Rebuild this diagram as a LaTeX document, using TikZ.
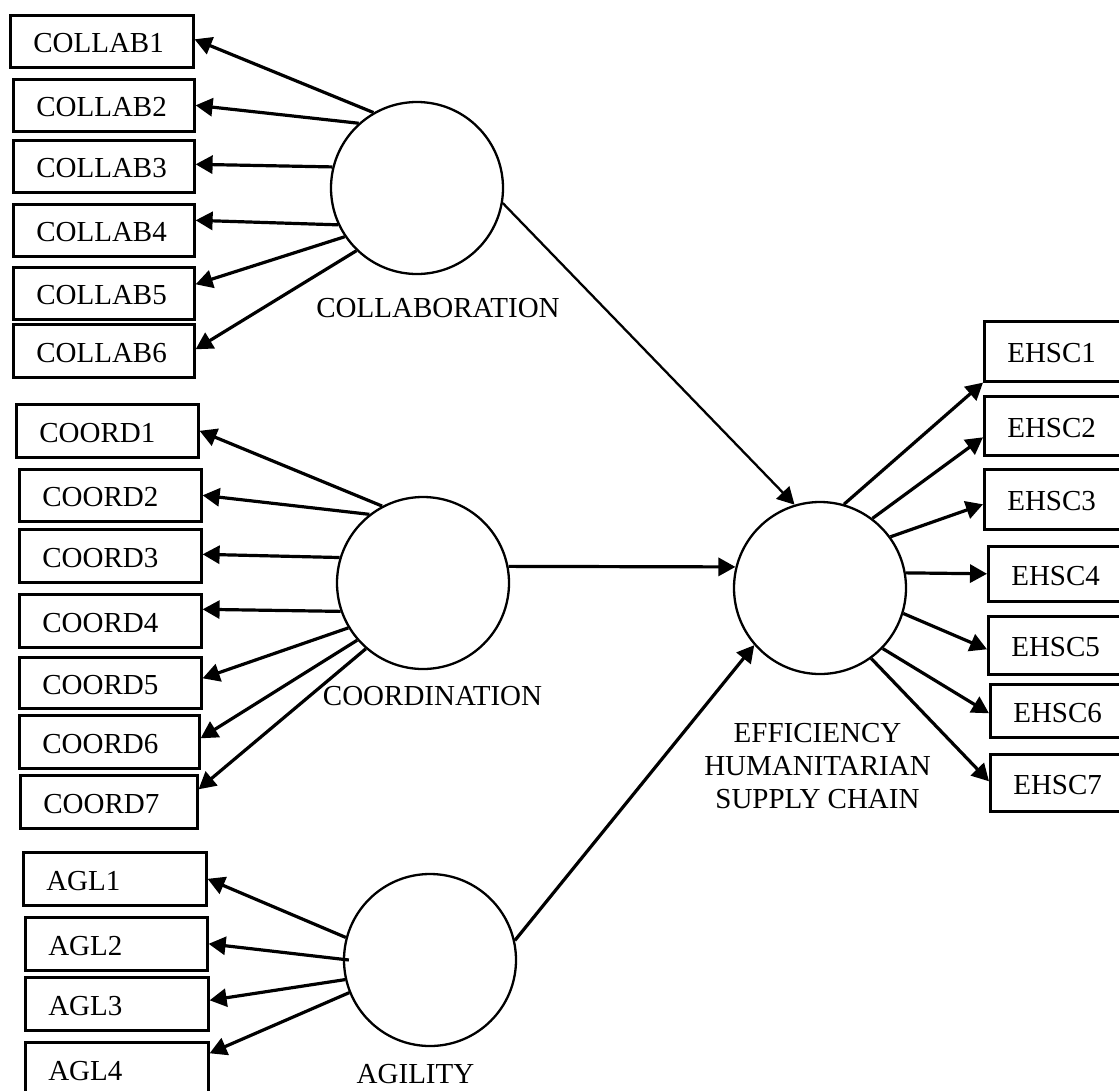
\documentclass[tikz,border=0pt]{standalone}
\usepackage{fontspec}
\setmainfont{Liberation Serif}
\usetikzlibrary{arrows.meta}
\begin{document}
\begin{tikzpicture}[x=1pt,y=1pt,
  every node/.style={font=\fontsize{29}{33}\selectfont},
  bx/.style 2 args={draw, line width=2.6pt, align=left, inner xsep=23pt, inner ysep=0pt,
    text height=23pt, text depth=0pt, anchor=north west, text width=#1pt, minimum height=#2pt},
  lat/.style={draw, circle, line width=2.3pt, minimum size=172pt, inner sep=0pt},
  arr/.style={line width=3.2pt, -{Triangle[length=17pt,width=18pt]}},
  path/.style={line width=2.3pt, -{Triangle[length=17pt,width=18pt]}},
  lbl/.style={inner sep=0pt}]
\useasboundingbox (0,0) rectangle (1119,-1090);
\clip (0,0) rectangle (1119,-1090);
% indicator boxes
\node[bx={137}{52}] (a1) at (9,-14) {COLLAB1};
\node[bx={135}{52}] (a2) at (12,-78) {COLLAB2};
\node[bx={135}{52}] (a3) at (12,-139) {COLLAB3};
\node[bx={135}{52}] (a4) at (12,-203) {COLLAB4};
\node[bx={135}{52}] (a5) at (12,-266) {COLLAB5};
\node[bx={135}{53}] (a6) at (12,-323) {COLLAB6};
\node[bx={136}{53}] (b1) at (15,-403) {COORD1};
\node[bx={136}{52}] (b2) at (18,-468) {COORD2};
\node[bx={136}{53}] (b3) at (18,-528) {COORD3};
\node[bx={136}{53}] (b4) at (18,-593) {COORD4};
\node[bx={136}{51}] (b5) at (18,-656) {COORD5};
\node[bx={134}{53}] (b6) at (18,-714) {COORD6};
\node[bx={131}{53}] (b7) at (19,-774) {COORD7};
\node[bx={137}{53}] (g1) at (22,-851) {AGL1};
\node[bx={136}{53}] (g2) at (24,-916) {AGL2};
\node[bx={137}{53}] (g3) at (24,-976) {AGL3};
\node[bx={137}{53}] (g4) at (24,-1041) {AGL4};
\node[bx={130}{60}] (e1) at (983,-320) {EHSC1};
\node[bx={130}{59}] (e2) at (983,-395) {EHSC2};
\node[bx={130}{60}] (e3) at (983,-468) {EHSC3};
\node[bx={126}{55}] (e4) at (987,-545) {EHSC4};
\node[bx={126}{58}] (e5) at (987,-615) {EHSC5};
\node[bx={124}{53}] (e6) at (989,-683) {EHSC6};
\node[bx={124}{57}] (e7) at (989,-753) {EHSC7};
% latent variables
\node[lat] (cl) at (417,-188) {};
\node[lat] (co) at (423,-583) {};
\node[lat] (ag) at (430,-960) {};
\node[lat] (ef) at (820,-588) {};
% labels
\node[lbl, anchor=base] (lcl) at (438,-317) {COLLABORATION};
\node[lbl, anchor=base] (lco) at (432.5,-705) {COORDINATION};
\node[lbl, anchor=base] (lag) at (415.5,-1083) {AGILITY};
\node[lbl, anchor=north, align=center] (lef) at (817.5,-723) {EFFICIENCY\\HUMANITARIAN\\SUPPLY CHAIN};
% collaboration indicators
\draw[arr] (cl.120) -- ([yshift=2]a1.east);
\draw[arr] (cl.132) -- (a2.east);
\draw[arr] (cl.166) -- ([yshift=2]a3.east);
\draw[arr] (cl.205) -- ([yshift=10]a4.east);
\draw[arr] (cl.214) -- ([yshift=9]a5.east);
\draw[arr] (cl.226) -- ([yshift=1.5]a6.east);
% coordination indicators
\draw[arr] (co.118) -- (b1.east);
\draw[arr] (co.128) -- (b2.east);
\draw[arr] (co.163) -- ([yshift=1.5]b3.east);
\draw[arr] (co.199.5) -- ([yshift=11.5]b4.east);
\draw[arr] (co.211) -- ([yshift=4.5]b5.east);
\draw[arr] (co.221) -- ([yshift=3.5]b6.east);
\draw[arr] (co.229) -- ([yshift=12.5]b7.east);
% agility indicators
\draw[arr] (ag.165.6) -- (g1.east);
\draw[arr] ([xshift=6]ag.180) -- (g2.east);
\draw[arr] (ag.193.4) -- ([yshift=3.5]g3.east);
\draw[arr] (ag.202.5) -- ([yshift=15.5]g4.east);
% EHSC indicators
\draw[arr] (ef.74) -- (e1.south west);
\draw[arr] (ef.53) -- ([yshift=-11.5]e2.west);
\draw[arr] (ef.36) -- ([yshift=-5]e3.west);
\draw[arr] (ef.10) -- (e4.west);
\draw[arr] (ef.-17.4) -- ([yshift=-4]e5.west);
\draw[arr] (ef.-44) -- ([yshift=-2.5]e6.west);
\draw[arr] (ef.-54.7) -- ([yshift=1.5]e7.west);
% structural paths
\draw[path] (cl.-10) -- (ef.107);
\draw[arr] (co.11) -- (ef.166);
\draw[arr] (ag.13) -- (ef.221);
\end{tikzpicture}
\end{document}
